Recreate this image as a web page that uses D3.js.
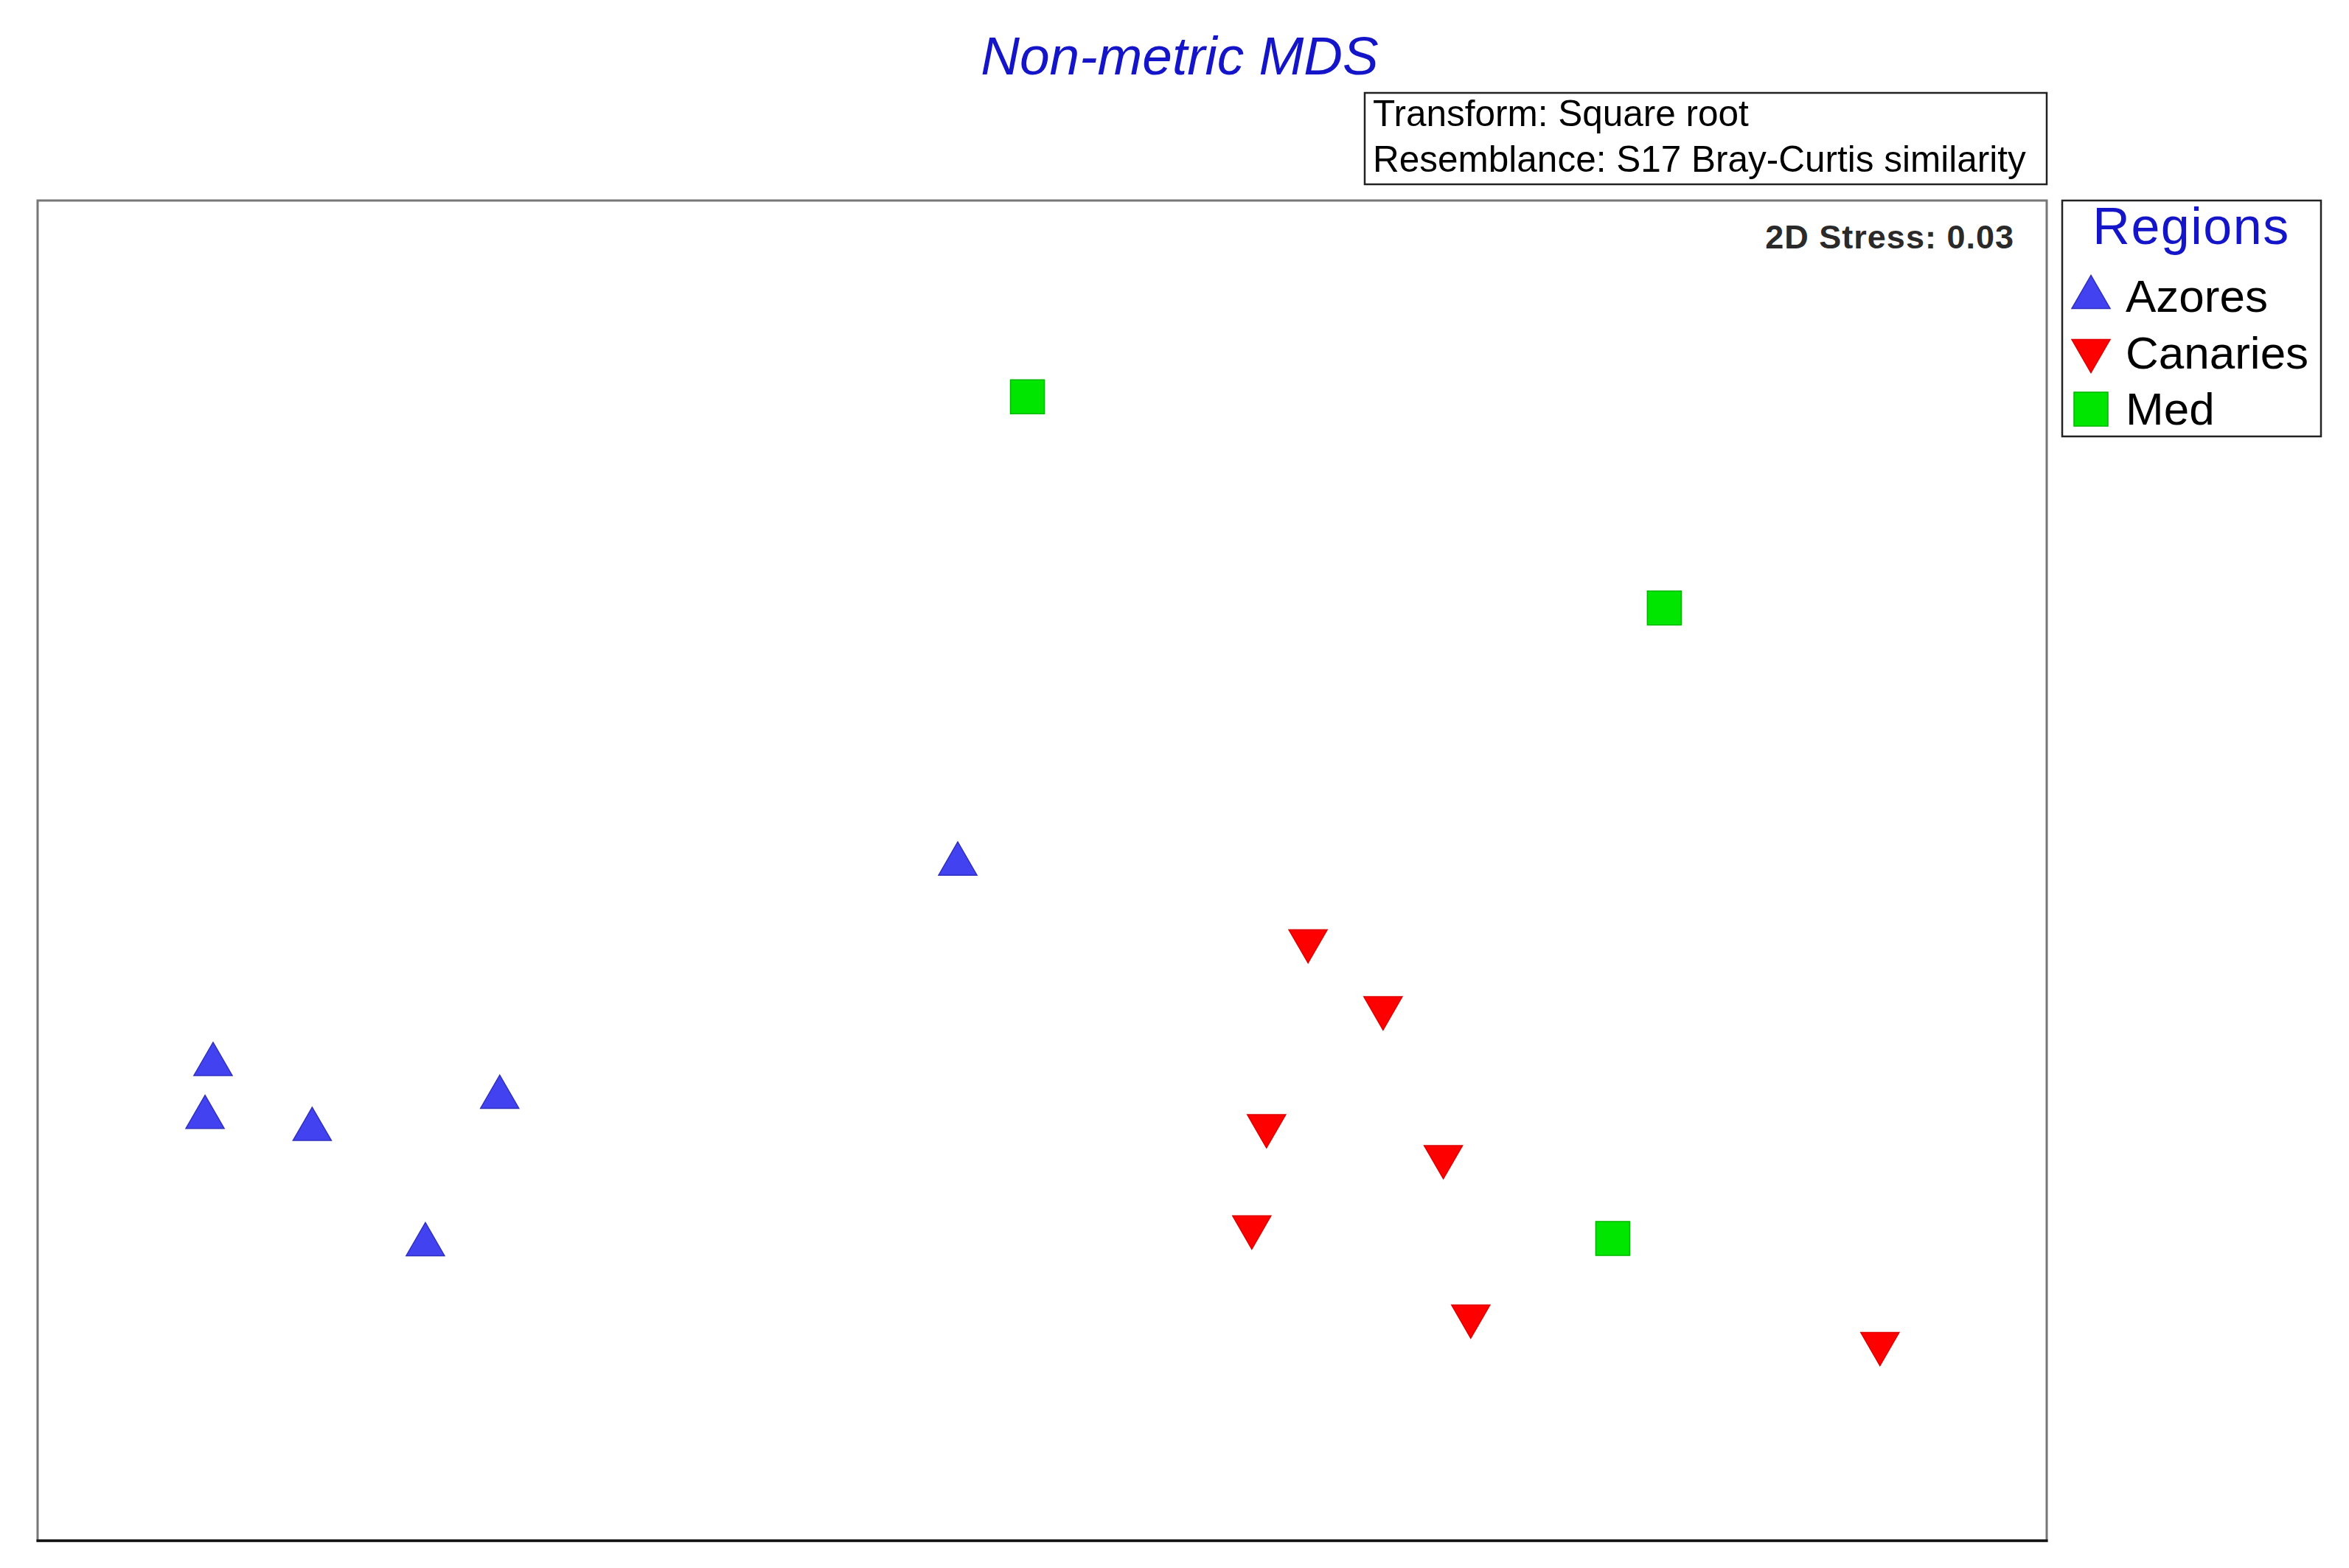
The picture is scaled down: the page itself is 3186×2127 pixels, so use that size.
<!DOCTYPE html>
<html lang="en">
<head>
    <meta charset="UTF-8">
    <title>Non-metric MDS</title>
    <script src="https://cdnjs.cloudflare.com/ajax/libs/d3/7.8.5/d3.min.js"></script>
    <style>
        body {
            margin: 0;
            padding: 0;
            background-color: #fff;
            font-family: Arial, "Liberation Sans", sans-serif;
        }
        .frame {
            fill: none;
            stroke: #777;
            stroke-width: 3px;
        }
        .info-box, .legend-box {
            fill: #fff;
            stroke: #222;
            stroke-width: 2.5px;
        }
    </style>
</head>
<body>
    <div id="chart"></div>
    <script>
        // MDS ordination coordinates
        const regions = ["Azores", "Canaries", "Med"];
        const azoresX = [-1.238, -1.250, -1.090, -0.810, -0.921, -0.126];
        const azoresY = [-0.281, -0.360, -0.378, -0.330, -0.550, 0.018];
        const canariesX = [0.397, 0.509, 0.335, 0.599, 0.313, 0.640, 1.251];
        const canariesY = [-0.113, -0.213, -0.389, -0.435, -0.540, -0.673, -0.714];
        const medX = [-0.022, 0.929, 0.852];
        const medY = [0.707, 0.392, -0.549];

        const colors = { Azores: "#4242f0", Canaries: "#ff0000", Med: "#00e600" };
        const strokes = { Azores: "#3030c0", Canaries: "#e00000", Med: "#00b800" };

        const points = [];
        azoresX.forEach((x, i) => points.push({ region: "Azores", x, y: azoresY[i] }));
        canariesX.forEach((x, i) => points.push({ region: "Canaries", x, y: canariesY[i] }));
        medX.forEach((x, i) => points.push({ region: "Med", x, y: medY[i] }));

        const W = 3186, H = 2127;
        const plot = { left: 51, top: 272, right: 2776, bottom: 2090 };

        const svg = d3.select("#chart").append("svg")
            .attr("width", W)
            .attr("height", H);

        svg.append("rect").attr("width", W).attr("height", H).attr("fill", "#fff");

        const x = d3.scaleLinear().domain([-1.5, 1.5]).range([plot.left, plot.right]);
        const y = d3.scaleLinear().domain([-1, 1]).range([plot.bottom, plot.top]);

        // plot frame (darker bottom edge like the original)
        svg.append("rect")
            .attr("class", "frame")
            .attr("x", plot.left)
            .attr("y", plot.top)
            .attr("width", plot.right - plot.left)
            .attr("height", plot.bottom - plot.top);
        svg.append("line")
            .attr("x1", plot.left - 1.5).attr("x2", plot.right + 1.5)
            .attr("y1", plot.bottom).attr("y2", plot.bottom)
            .attr("stroke", "#111").attr("stroke-width", 3.5);

        // title
        svg.append("text")
            .attr("x", 1600)
            .attr("y", 101)
            .attr("text-anchor", "middle")
            .attr("font-size", 73)
            .attr("font-style", "italic")
            .attr("fill", "#1414c8")
            .text("Non-metric MDS");

        // transform / resemblance box
        svg.append("rect")
            .attr("class", "info-box")
            .attr("x", 1851).attr("y", 126)
            .attr("width", 2776 - 1851).attr("height", 250 - 126);
        svg.append("text")
            .attr("x", 1862).attr("y", 171)
            .attr("font-size", 49.5)
            .attr("fill", "#000")
            .text("Transform: Square root");
        svg.append("text")
            .attr("x", 1862).attr("y", 233)
            .attr("font-size", 49.5)
            .attr("fill", "#000")
            .text("Resemblance: S17 Bray-Curtis similarity");

        // stress
        svg.append("text")
            .attr("x", 2732).attr("y", 337)
            .attr("text-anchor", "end")
            .attr("font-size", 45)
            .attr("font-weight", "bold")
            .attr("letter-spacing", 1)
            .attr("fill", "#2a2a2a")
            .text("2D Stress: 0.03");

        // markers
        const triSize = 1171;   // equilateral, side ~52px
        const triOffset = Math.sqrt(triSize / (Math.sqrt(3) * 3)) / 2;
        const square = d3.symbol(d3.symbolSquare, 46 * 46);
        const triangle = d3.symbol(d3.symbolTriangle, triSize);

        function markerPath(region) {
            return region === "Med" ? square() : triangle();
        }
        function markerTransform(region, px, py) {
            if (region === "Azores") return `translate(${px},${py + triOffset})`;
            if (region === "Canaries") return `translate(${px},${py - triOffset}) rotate(180)`;
            return `translate(${px},${py})`;
        }

        svg.append("g").selectAll("path")
            .data(points)
            .enter().append("path")
            .attr("d", d => markerPath(d.region))
            .attr("transform", d => markerTransform(d.region, x(d.x), y(d.y)))
            .attr("fill", d => colors[d.region])
            .attr("stroke", d => strokes[d.region])
            .attr("stroke-width", 1.5)
            .attr("stroke-linejoin", "miter");

        // legend
        const legend = svg.append("g");
        legend.append("rect")
            .attr("class", "legend-box")
            .attr("x", 2797).attr("y", 272)
            .attr("width", 3148 - 2797).attr("height", 592 - 272);
        legend.append("text")
            .attr("x", 2972).attr("y", 331)
            .attr("text-anchor", "middle")
            .attr("font-size", 70)
            .attr("letter-spacing", 1.5)
            .attr("fill", "#1414c8")
            .text("Regions");

        const legendText = [423, 500, 576];
        const legendSym = [396, 483, 555];
        regions.forEach((r, i) => {
            legend.append("path")
                .attr("d", markerPath(r))
                .attr("transform", markerTransform(r, 2836, legendSym[i]))
                .attr("fill", colors[r])
                .attr("stroke", strokes[r])
                .attr("stroke-width", 1.5);
            legend.append("text")
                .attr("x", 2883).attr("y", legendText[i])
                .attr("font-size", 62)
                .attr("fill", "#000")
                .text(r);
        });
    </script>
</body>
</html>
